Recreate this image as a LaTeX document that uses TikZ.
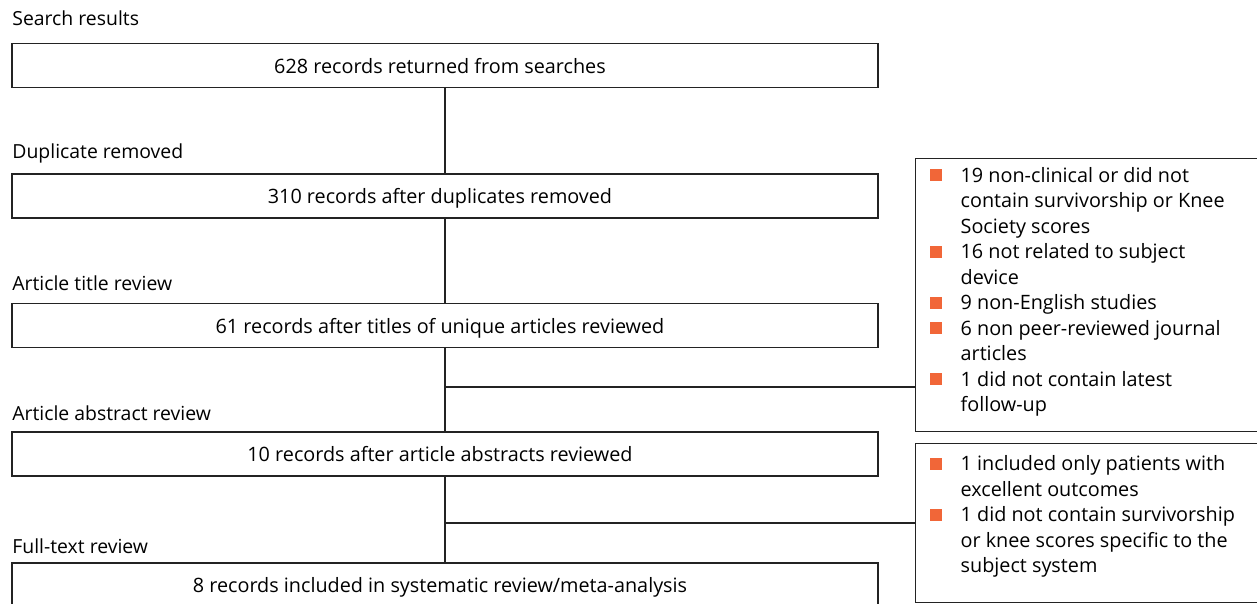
\documentclass[tikz,border=0pt]{standalone}
\usepackage{fontspec}
\setmainfont{Open Sans}
\usetikzlibrary{positioning}
\definecolor{bulorange}{RGB}{241,102,56}
\definecolor{linegray}{RGB}{35,35,35}
\newcommand{\bul}{\makebox[15.5pt][l]{\textcolor{bulorange}{\raisebox{0.5pt}{\rule{6pt}{6pt}}}}}
\begin{document}
\begin{tikzpicture}[x=0.5pt,y=-0.5pt,
    font=\fontsize{9.9}{12.75}\selectfont,
    lbl/.style={anchor=base west,inner sep=0pt,font=\fontsize{9.7}{12}\selectfont},
    recbox/.style={draw=linegray,line width=0.65pt,minimum width=433pt,minimum height=22pt,
        inner sep=0pt,text height=7.6pt,text depth=0pt},
    exclbox/.style={draw=linegray,line width=0.65pt,anchor=north west,inner xsep=7pt,inner ysep=0pt},
    link/.style={draw=linegray,line width=0.65pt}]

    \useasboundingbox (0,0) rectangle (1257,604);

    \node[lbl] (lsearch) at (12,26) {Search results};
    \node[recbox] (rsearch) at (445,65.5) {\hspace*{-5pt}628 records returned from searches};

    \node[lbl] (ldup) at (12,159) {Duplicate removed};
    \node[recbox] (rdup) at (445,196) {\hspace*{-5pt}310 records after duplicates removed};

    \node[lbl] (ltitle) at (12,290) {Article title review};
    \node[recbox] (rtitle) at (445,325.5) {\hspace*{-5pt}61 records after titles of unique articles reviewed};

    \node[lbl] (labs) at (12,420) {Article abstract review};
    \node[recbox] (rabs) at (445,454) {\hspace*{-5pt}10 records after article abstracts reviewed};

    \node[lbl] (lfull) at (12,553) {Full-text review};
    \node[recbox] (rfull) at (445,585) {\hspace*{-5pt}8 records included in systematic review/meta-analysis};

    \node[exclbox] (excl1) at (915,158) {\parbox[c][136.5pt][t]{159.5pt}{\vspace*{2.8pt}%
        \begin{tabular}{@{}l@{}l@{}}
        \bul & 19 non-clinical or did not\\
             & contain survivorship or Knee\\
             & Society scores\\
        \bul & 16 not related to subject\\
             & device\\
        \bul & 9 non-English studies\\
        \bul & 6 non peer-reviewed journal\\
             & articles\\
        \bul & 1 did not contain latest\\
             & follow-up
        \end{tabular}}};

    \node[exclbox] (excl2) at (915,443) {\parbox[c][79.5pt][t]{159.5pt}{\vspace*{4.6pt}%
        \begin{tabular}{@{}l@{}l@{}}
        \bul & 1 included only patients with\\
             & excellent outcomes\\
        \bul & 1 did not contain survivorship\\
             & or knee scores specific to the\\
             & subject system
        \end{tabular}}};

    \draw[link] (rsearch) -- (rdup);
    \draw[link] (rdup) -- (rtitle);
    \draw[link] (rtitle) -- (rabs);
    \draw[link] (rabs) -- (rfull);

    \coordinate (br1) at (445,387);
    \coordinate (br2) at (445,523);
    \draw[link] (br1) -- (br1 -| excl1.west);
    \draw[link] (br2) -- (br2 -| excl2.west);
\end{tikzpicture}
\end{document}
